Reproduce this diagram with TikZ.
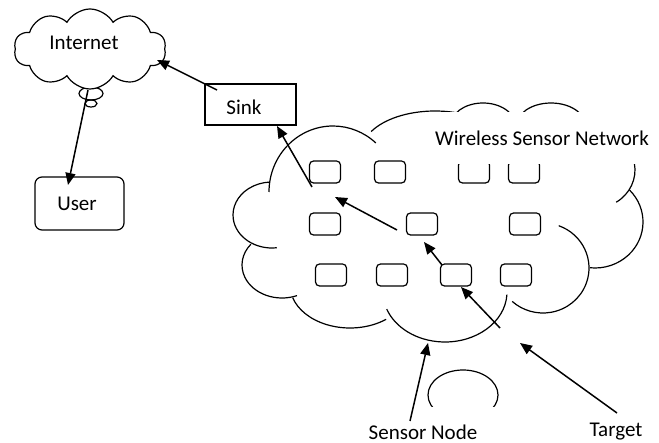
\documentclass[tikz,border=0pt]{standalone}
\usepackage{fontspec}
\setmainfont{Carlito}
\usetikzlibrary{shapes.symbols,arrows.meta}
\begin{document}
\begin{tikzpicture}[x=1pt, y=-1pt, line width=1.2pt,
  every node/.style={font=\fontsize{21}{25}\selectfont},
  sensor/.style={draw, rounded corners=4pt, minimum width=31pt, minimum height=22pt, inner sep=0pt},
  arr/.style={line width=1.5pt, -{Triangle[length=12pt,width=10pt]}}]
\useasboundingbox (0,0) rectangle (659,443);
% internet cloud with its bubbles
\draw (91,93.5) ellipse [x radius=12, y radius=6.5];
\draw (91,103.5) ellipse [x radius=6, y radius=3.5];
\node[cloud, draw, fill=white, cloud puffs=10, cloud puff arc=120, aspect=2, minimum width=152pt, minimum height=80pt] (inet) at (90,49) {};
\node (inettext) at (84,43) {Internet};
\node[draw, rounded corners=7pt, minimum width=89pt, minimum height=53pt] (user) at (79.5,203.5) {};
\node (usertext) at (77,204) {User};
\node[draw, minimum width=91pt, minimum height=41pt] (sink) at (250.5,104.5) {};
\node (sinktext) at (244,107) {Sink};
% wireless sensor network cloud
\draw ([shift={(180:64 and 66)}]333,192) arc[start angle=180, end angle=312, x radius=64, y radius=66];
\draw ([shift={(209:73 and 40)}]435,151) arc[start angle=209, end angle=320, x radius=73, y radius=40];
\draw ([shift={(200:32 and 22)}]483,125) arc[start angle=200, end angle=340, x radius=32, y radius=22];
\draw ([shift={(200:34 and 22)}]551,125) arc[start angle=200, end angle=340, x radius=34, y radius=22];
\draw ([shift={(-100:40 and 38)}]595,170) arc[start angle=-100, end angle=58, x radius=40, y radius=38];
\draw ([shift={(-44:48 and 46)}]595,222) arc[start angle=-44, end angle=96, x radius=48, y radius=46];
\draw ([shift={(-70:46 and 45)}]543,268) arc[start angle=-70, end angle=132, x radius=46, y radius=45];
\draw ([shift={(3:62 and 50)}]445,292) arc[start angle=3, end angle=160, x radius=62, y radius=50];
\draw ([shift={(53:60 and 43)}]350,285) arc[start angle=53, end angle=163, x radius=60, y radius=43];
\draw ([shift={(68:40 and 33)}]282,265) arc[start angle=68, end angle=219, x radius=40, y radius=33];
\draw ([shift={(83:39 and 33)}]272,215) arc[start angle=83, end angle=267, x radius=39, y radius=33];
% sensor nodes
\foreach \x/\y/\n in {325/172/r1c1, 390/172/r1c2, 474/172/r1c3, 524/172/r1c4,
  325/224/r2c1, 422/224/r2c2, 525/224/r2c3,
  331/275/r3c1, 392/275/r3c2, 456/275/r3c3, 516/275/r3c4}
  \node[sensor] (\n) at (\x,\y) {};
\node[fill=white, minimum width=210pt, minimum height=52pt] (wsn) at (542,138.5) {Wireless Sensor Network};
% target and labels
\draw (463,395) ellipse [x radius=35, y radius=25];
\node[fill=white, minimum width=160pt, minimum height=50pt] (sensorlabel) at (423,432) {Sensor Node};
\node (targetlabel) at (616,432) {Target};
% data path
\coordinate (p0) at (617,413); \coordinate (p1) at (520,343);
\coordinate (p2) at (500,328); \coordinate (p3) at (461,287);
\coordinate (p4) at (442,265); \coordinate (p5) at (424,242);
\coordinate (p6) at (397,230); \coordinate (p7) at (335,197);
\coordinate (p8) at (312,187); \coordinate (p9) at (277,126);
\coordinate (p10) at (217,90); \coordinate (p11) at (157,60);
\coordinate (p12) at (88,90); \coordinate (p13) at (68,185);
\coordinate (s0) at (410,421); \coordinate (s1) at (428,343);
\draw[arr] (p0) -- (p1);
\draw[arr] (p2) -- (p3);
\draw[arr] (p4) -- (p5);
\draw[arr] (p6) -- (p7);
\draw[arr] (p8) -- (p9);
\draw[arr] (p10) -- (p11);
\draw[arr] (p12) -- (p13);
\draw[arr] (s0) -- (s1);
\end{tikzpicture}
\end{document}
